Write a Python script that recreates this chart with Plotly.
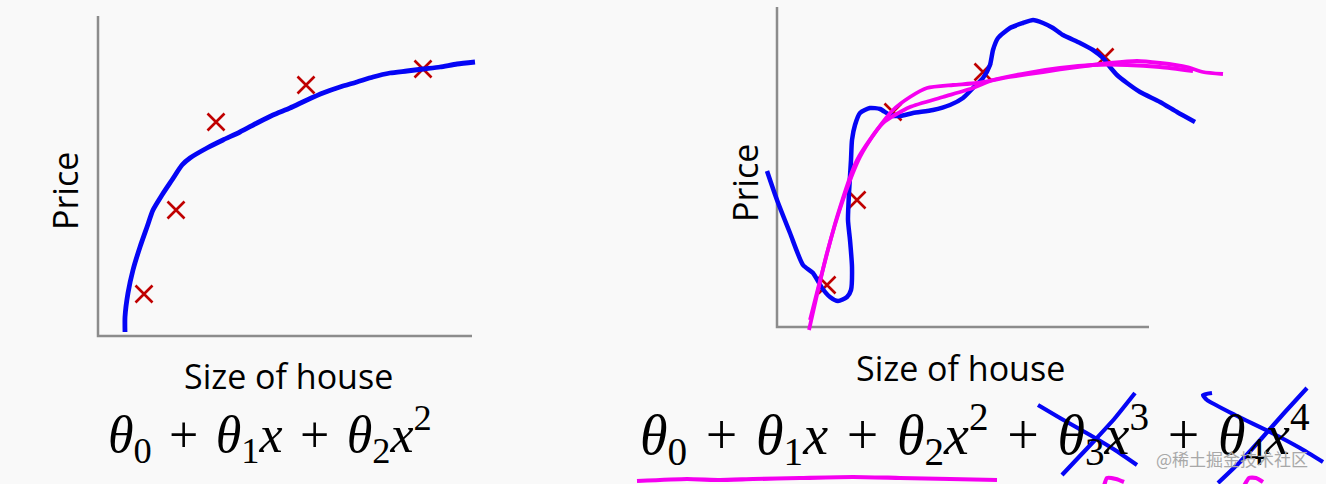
import plotly.graph_objects as go

W, H = 1326, 484
BG = "#f9f9f9"
BLUE = "#0505f5"
PINK = "#f500f0"
RED = "#c00000"
GRAY = "#8c8c8c"

# ---------------- left panel (good fit) ----------------
left_axis_x = [0, 0, 374]
left_axis_y = [320, 0, 0]
left_pts_x = [46, 78, 118, 208, 325]
left_pts_y = [42, 126, 214, 251, 267]
left_fit_x = [27, 27, 30, 35, 42, 49, 55, 64, 74, 84, 92, 109, 125, 142, 159, 175, 192, 209, 225, 242, 259, 275, 292, 309, 325, 342, 359, 377]
left_fit_y = [4, 19, 43, 66, 89, 109, 126, 141, 156, 171, 178, 188, 196, 204, 213, 221, 228, 236, 243, 249, 254, 259, 263, 265, 267, 269, 272, 274]

# ---------------- right panel (over-fit) ----------------
right_axis_x = [0, 0, 372]
right_axis_y = [320, 0, 0]
right_pts_x = [50, 80, 116, 206, 328]
right_pts_y = [42, 127, 215, 255, 270]
right_fit_x = [-10, 0, 13, 26, 36, 45, 53, 61, 70, 74, 75, 73, 71, 72, 74, 75, 78, 83, 93, 103, 113, 123, 136,
               156, 173, 186, 196, 206, 213, 216, 221, 233, 246, 256, 266, 276, 286, 303, 316, 326, 333, 340,
               350, 363, 383, 400, 418]
right_fit_y = [156, 127, 94, 62, 54, 39, 30, 26, 30, 37, 60, 87, 107, 134, 167, 187, 202, 214, 219, 218, 212, 211, 214,
               217, 222, 229, 239, 249, 262, 277, 289, 299, 304, 307, 304, 299, 292, 284, 277, 269, 260, 252,
               244, 235, 225, 215, 205]
pink1_x = [32, 50, 66, 83, 100, 116, 133, 150, 176, 200, 233, 266, 300, 333, 360, 383, 410, 426, 446]
pink1_y = [-3, 74, 127, 170, 197, 217, 230, 239, 242, 244, 250, 255, 260, 264, 266, 264, 260, 255, 253]
pink2_x = [33, 60, 80, 106, 133, 166, 196, 216, 250, 283, 316, 350, 383, 416]
pink2_y = [7, 110, 167, 204, 220, 230, 239, 247, 254, 259, 262, 262, 260, 256]

# ---------------- labels ----------------
x_label = "Size of house"
y_label = "Price"
PLUS = "\u2004+\u2004"
formula_left = PLUS.join(["<i>θ</i><sub>0</sub>", "<i>θ</i><sub>1</sub><i>x</i>",
                          "<i>θ</i><sub>2</sub><i>x</i><sup>2</sup>"])
formula_right = PLUS.join(["<i>θ</i><sub>0</sub>", "<i>θ</i><sub>1</sub><i>x</i>",
                           "<i>θ</i><sub>2</sub><i>x</i><sup>2</sup>", "<i>θ</i><sub>3</sub><i>x</i><sup>3</sup>",
                           "<i>θ</i><sub>4</sub><i>x</i><sup>4</sup>"])
watermark = "@稀土掘金技术社区"

# ---------------- hand-drawn ink on the slide (page pixels) ----------------
ink_strokes = [
    ([1038, 1060, 1090, 1115, 1137], [405, 418, 435, 450, 465], BLUE),
    ([1135, 1115, 1095, 1078, 1062], [393, 418, 440, 458, 475], BLUE),
    ([1212, 1203, 1207, 1235, 1270, 1300, 1323], [393, 395, 400, 415, 432, 448, 462], BLUE),
    ([1307, 1285, 1262, 1240, 1218], [388, 412, 438, 462, 483], BLUE),
    ([637, 687, 720, 753, 800, 853, 900, 950, 997], [481, 479, 480, 479, 478, 477, 478, 479, 480], PINK),
    ([1104, 1107, 1116, 1124], [486, 478, 479, 482], PINK),
    ([1244, 1249, 1256, 1263], [486, 478, 478, 482], PINK),
]

fig = go.Figure()

def add_panel(xa, ya, ax_x, ax_y, pts_x, pts_y, curves):
    fig.add_trace(go.Scatter(x=ax_x, y=ax_y, mode="lines", line=dict(color=GRAY, width=2.5),
                             xaxis=xa, yaxis=ya, hoverinfo="skip", showlegend=False))
    fig.add_trace(go.Scatter(x=pts_x, y=pts_y, mode="markers",
                             marker=dict(symbol="x-thin", size=17, line=dict(color=RED, width=2.6)),
                             xaxis=xa, yaxis=ya, showlegend=False))
    for cx, cy, col, w in curves:
        fig.add_trace(go.Scatter(x=cx, y=cy, mode="lines", line=dict(color=col, width=w, shape="spline", smoothing=0.6),
                                 xaxis=xa, yaxis=ya, showlegend=False))

add_panel("x", "y", left_axis_x, left_axis_y, left_pts_x, left_pts_y,
          [(left_fit_x, left_fit_y, BLUE, 4.8)])
add_panel("x2", "y2", right_axis_x, right_axis_y, right_pts_x, right_pts_y,
          [(right_fit_x, right_fit_y, BLUE, 4.5), (pink1_x, pink1_y, PINK, 3.8), (pink2_x, pink2_y, PINK, 3.8)])

for sx, sy, col in ink_strokes:
    fig.add_trace(go.Scatter(x=sx, y=sy, mode="lines", line=dict(color=col, width=4.2, shape="spline", smoothing=0.5),
                             xaxis="x3", yaxis="y3", hoverinfo="skip", showlegend=False))

top = 1 - 345 / H
hidden = dict(visible=False, fixedrange=True)
fig.update_layout(
    width=W, height=H, margin=dict(l=0, r=0, t=0, b=0),
    paper_bgcolor=BG, plot_bgcolor="rgba(0,0,0,0)",
    xaxis=dict(domain=[80 / W, 500 / W], range=[-18, 402], **hidden),
    yaxis=dict(domain=[top, 1], range=[-9, 336], **hidden),
    xaxis2=dict(domain=[760 / W, 1240 / W], range=[-17, 463], **hidden),
    yaxis2=dict(domain=[top, 1], range=[-18, 327], **hidden),
    xaxis3=dict(domain=[0, 1], range=[0, W], **hidden),
    yaxis3=dict(domain=[0, 1], range=[H, 0], **hidden),
)

def px(x, y):
    return dict(xref="paper", yref="paper", x=x / W, y=1 - y / H, xanchor="center", yanchor="middle", showarrow=False)

sans = dict(family="Open Sans", size=34, color="black")

fig.add_annotation(text=y_label, textangle=-90, font=sans, **px(65, 191))
fig.add_annotation(text=x_label, font=sans, **px(288, 376))
fig.add_annotation(text=formula_left, font=dict(family="Liberation Serif", size=52, color="black"), **px(270, 434))
fig.add_annotation(text=y_label, textangle=-90, font=sans, **px(745, 183))
fig.add_annotation(text=x_label, font=sans, **px(960, 368))
fig.add_annotation(text=formula_right, font=dict(family="Liberation Serif", size=56, color="black"), **px(975, 434))
fig.add_annotation(text=watermark, font=dict(family="Noto Sans CJK SC", size=17, color="#a8a8a8"),
                   **px(1232, 458))

fig.write_html("out.html", config={"displayModeBar": False},
               post_script="document.body.style.margin='0';document.body.style.background='%s';" % BG)
